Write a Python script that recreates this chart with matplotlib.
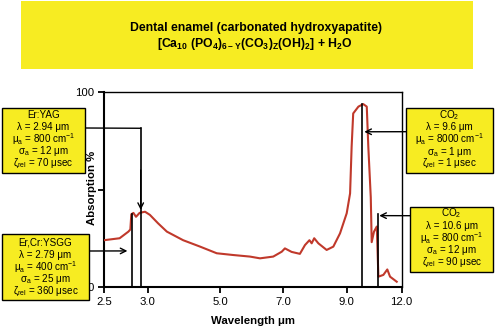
import numpy as np
import matplotlib.pyplot as plt
from matplotlib.patches import Rectangle

plt.rcParams['font.family'] = ['Liberation Sans', 'DejaVu Sans']
plt.rcParams['mathtext.fontset'] = 'custom'
plt.rcParams['mathtext.default'] = 'regular'

# absorption spectrum of dental enamel
wavelength = [2.50, 2.66, 2.75, 2.77, 2.78, 2.81, 2.856, 2.92, 2.977, 3.06, 3.29, 3.53,
              3.98, 4.45, 4.91, 5.42, 5.95, 6.27, 6.69, 6.96, 7.06, 7.27, 7.53, 7.69,
              7.83, 7.90, 7.98, 8.11, 8.37, 8.58, 8.79, 9.0, 9.13, 9.19, 9.25, 9.45,
              9.66, 9.89, 9.99, 10.15, 10.21, 10.36, 10.54, 10.64, 10.93, 11.16,
              11.32, 11.71]
absorption = [24, 25, 28.4, 29.5, 37.3, 38, 36, 38, 38.6, 37, 32.6, 28.4,
              24, 20.7, 17.3, 16.4, 15.6, 14.7, 15.6, 18.1, 19.8, 18, 17, 21.5,
              24, 22.4, 25, 22.4, 19, 20.7, 27.5, 37.8, 48, 72, 89, 92.5,
              93.8, 92.5, 72, 46, 23, 28.4, 31, 5.3, 6.2, 9, 5.3, 2.7]

xticks = [2.5, 3.0, 5.0, 7.0, 9.0, 12.0]
xticklabels = ['2.5', '3.0', '5.0', '7.0', '9.0', '12.0']

# the original axis is not linear: knots of the drawn wavelength scale
scale_wl = [2.5, 2.79, 2.94, 3.0, 5.0, 7.0, 9.0, 9.6, 10.6, 12.0]
scale_pos = [0, 28.3, 36.7, 43.7, 116, 179, 242.7, 258.3, 273.7, 297.7]

# lasers: wavelength, height of marker line, box text
laser_wl = [2.79, 2.94, 9.6, 10.6]
laser_top = [37.3, 81.4, 94.0, 37.3]
laser_text = [
    ['Er,Cr:YSGG', 'λ = 2.79 μm', 'μ$_a$ = 400 cm$^{-1}$', 'σ$_a$ = 25 μm', 'ζ$_{rel}$ = 360 μsec'],
    ['Er:YAG', 'λ = 2.94 μm', 'μ$_a$ = 800 cm$^{-1}$', 'σ$_a$ = 12 μm', 'ζ$_{rel}$ = 70 μsec'],
    ['CO$_2$', 'λ = 9.6 μm', 'μ$_a$ = 8000 cm$^{-1}$', 'σ$_a$ = 1 μm', 'ζ$_{rel}$ = 1 μsec'],
    ['CO$_2$', 'λ = 10.6 μm', 'μ$_a$ = 800 cm$^{-1}$', 'σ$_a$ = 12 μm', 'ζ$_{rel}$ = 90 μsec'],
]

W, H = 495, 331
yellow = '#F7EC22'


def fx(px):
    return px / W


def fy(py):
    return 1 - py / H


fig = plt.figure(figsize=(4.95, 3.31), dpi=100)
ax = fig.add_axes([fx(104), fy(287), fx(401.7) - fx(104), fy(92) - fy(287)])

fwd = lambda x: np.interp(x, scale_wl, scale_pos)
inv = lambda x: np.interp(x, scale_pos, scale_wl)
ax.set_xscale('function', functions=(fwd, inv))
ax.set_xlim(2.5, 12.0)
ax.set_ylim(0, 100)

ax.plot(wavelength, absorption, color='#C0392B', lw=1.5, zorder=3)

ax.set_xticks(xticks, xticklabels, fontsize=8.2)
ax.set_yticks([0, 50, 100], ['0', '', '100'], fontsize=8.2)
ax.xaxis.set_minor_locator(plt.NullLocator())
ax.tick_params(direction='out', length=4, width=1.3, pad=3)
for s in ['left', 'bottom']:
    ax.spines[s].set_linewidth(1.5)
for s in ['top', 'right']:
    ax.spines[s].set_linewidth(1.0)

ax.set_xlabel('Wavelength μm', fontsize=8.2, fontweight='bold', labelpad=7)
ax.set_ylabel('Absorption %', fontsize=8.2, fontweight='bold')
ax.yaxis.set_label_coords(-0.025, 0.51)

# vertical laser lines
for wl, top in zip(laser_wl, laser_top):
    ax.plot([wl, wl], [0, top], color='black', lw=1.2, zorder=4)

arrow = dict(arrowstyle='->', color='black', lw=1.0, shrinkA=0, shrinkB=0)
line = dict(arrowstyle='-', color='black', lw=1.0, shrinkA=0, shrinkB=0)

# Er,Cr:YSGG arrow
ax.annotate('', xy=(2.74, 18.5), xytext=(fx(89.3), fy(251)),
            textcoords='figure fraction', arrowprops=arrow, annotation_clip=False)
# Er:YAG leader and arrow
ax.annotate('', xy=(2.94, 81.4), xytext=(fx(85.3), fy(128)),
            textcoords='figure fraction', arrowprops=line, annotation_clip=False)
ax.annotate('', xy=(2.94, 39.5), xytext=(2.94, 60), arrowprops=arrow)
# CO2 arrows
ax.annotate('', xy=(9.73, 79.6), xytext=(fx(406), fy(131.7)),
            textcoords='figure fraction', arrowprops=arrow, annotation_clip=False)
ax.annotate('', xy=(10.69, 36.6), xytext=(fx(410), fy(215.7)),
            textcoords='figure fraction', arrowprops=arrow, annotation_clip=False)

# title banner
fig.add_artist(Rectangle((fx(20.7), fy(69)), fx(473.3) - fx(20.7), fy(1) - fy(69),
                         transform=fig.transFigure, facecolor=yellow, edgecolor='none'))
fig.text(fx(255.5), fy(28), 'Dental enamel (carbonated hydroxyapatite)',
         ha='center', va='center', fontsize=8.8, fontweight='bold')
fig.text(fx(255), fy(44),
         '[Ca$_{10}$ (PO$_4$)$_{6\u2009\u2013\u2009Y}$(CO$_3$)$_Z$(OH)$_2$] + H$_2$O',
         ha='center', va='center', fontsize=8.8, fontweight='bold')

# laser boxes: (left, top, right, bottom) in pixels, first line centre y
boxes = [(1.7, 234, 89.3, 300), (1.7, 108.3, 85.3, 172.7),
         (406, 108.3, 493.3, 172.7), (410, 206.7, 493.3, 272.3)]
line_y0 = [242.5, 114.5, 115, 213.5]
for (l, t, r, b), y0, lines in zip(boxes, line_y0, laser_text):
    fig.add_artist(Rectangle((fx(l), fy(b)), fx(r) - fx(l), fy(t) - fy(b),
                             transform=fig.transFigure, facecolor=yellow,
                             edgecolor='black', lw=1.0))
    for i, s in enumerate(lines):
        fig.text(fx((l + r) / 2), fy(y0 + i * 12.2), s, ha='center', va='center',
                 fontsize=7.1)

fig.savefig('out.png', dpi=100)
